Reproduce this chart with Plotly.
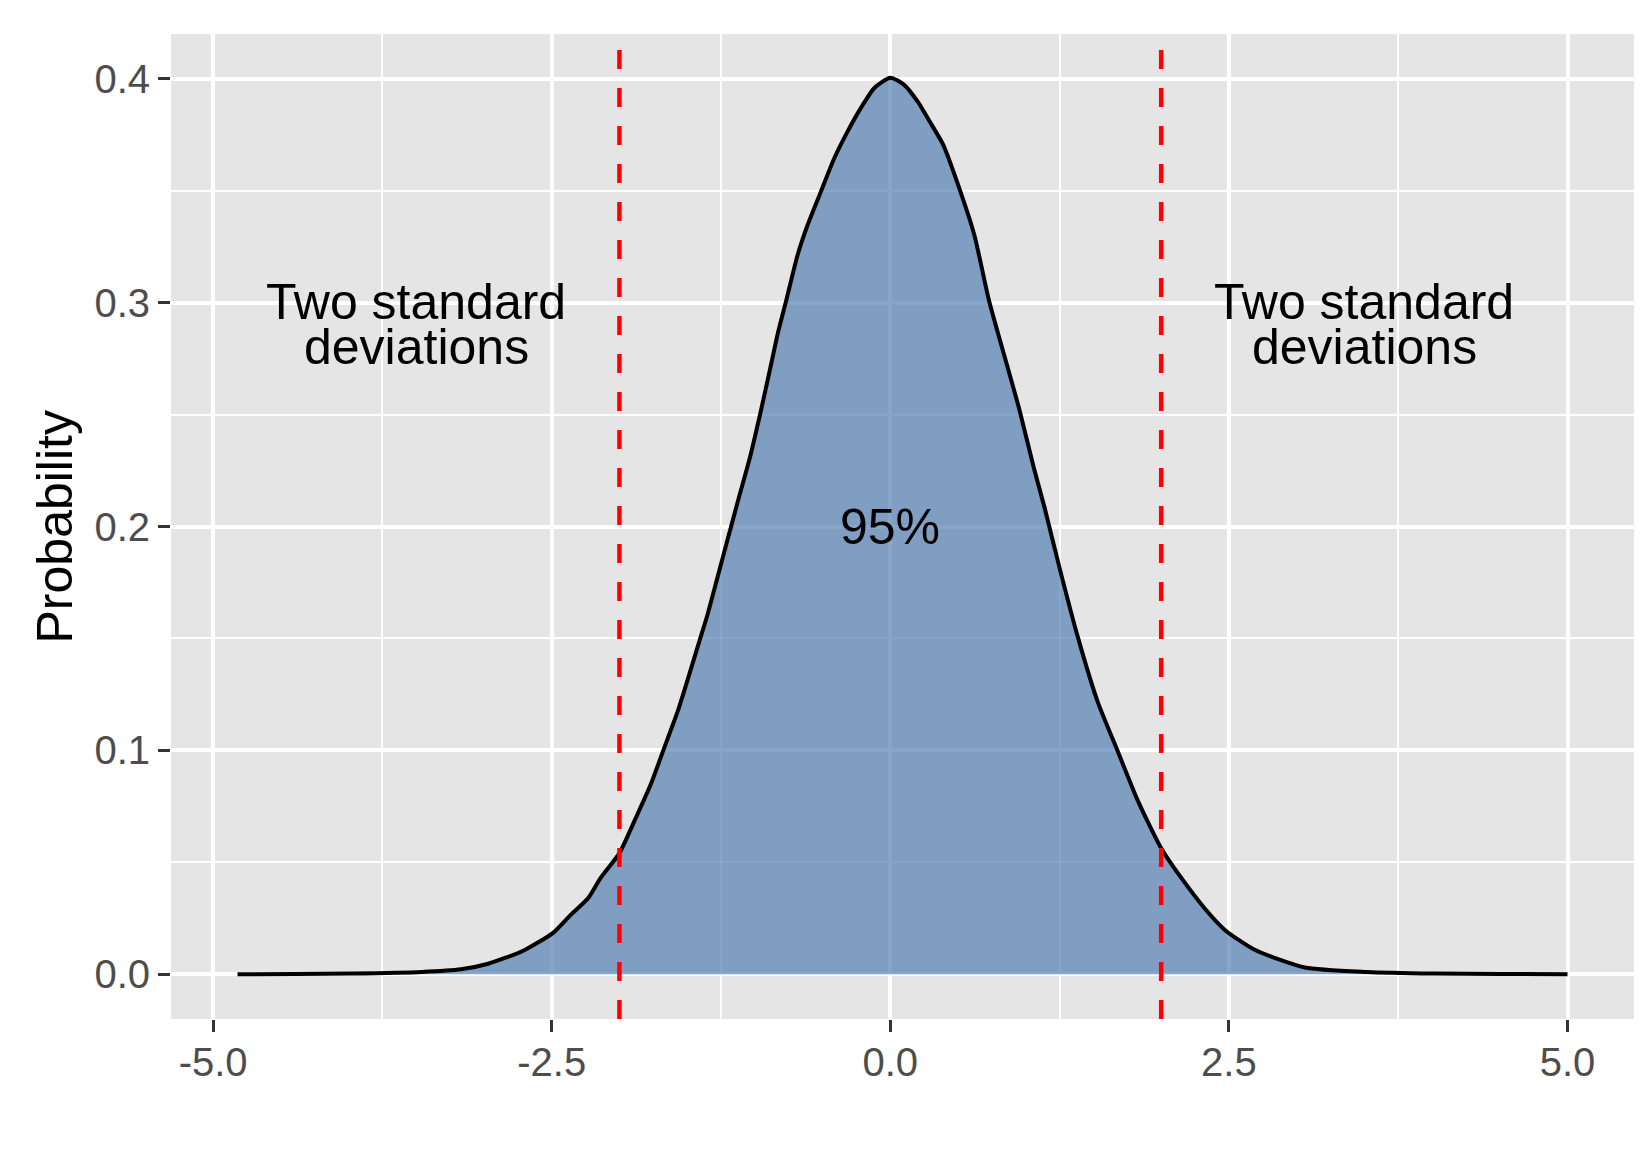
import plotly.graph_objects as go

x_vals = [-4.82, -4.40, -3.97, -3.46, -3.17, -2.97, -2.71, -2.49, -2.36, -2.23,
          -2.14, -2.00, -1.88, -1.77, -1.67, -1.57, -1.50, -1.41, -1.35, -1.275,
          -1.20, -1.12, -1.04, -0.96, -0.886, -0.827, -0.770, -0.684, -0.610, -0.512,
          -0.413, -0.315, -0.217, -0.118, 0.00, 0.10, 0.20, 0.29, 0.39, 0.50,
          0.62, 0.73, 0.84, 0.95, 1.06, 1.14, 1.25, 1.38, 1.53, 1.68,
          1.83, 2.00, 2.15, 2.32, 2.47, 2.69, 3.06, 3.52, 4.01, 4.50, 5.00]
density = [0.0000, 0.0001, 0.0003, 0.0010, 0.0022, 0.0047, 0.0105, 0.0185, 0.0265, 0.0340,
           0.0429, 0.0541, 0.0697, 0.0846, 0.1010, 0.1174, 0.1308, 0.1487, 0.1606, 0.1775,
           0.1945, 0.2125, 0.2300, 0.2505, 0.2708, 0.2872, 0.3006, 0.3214, 0.3348, 0.3497,
           0.3646, 0.3765, 0.3870, 0.3959, 0.4005, 0.3974, 0.3900, 0.3810, 0.3706, 0.3527,
           0.3303, 0.3006, 0.2767, 0.2529, 0.2261, 0.2082, 0.1814, 0.1516, 0.1219, 0.0995,
           0.0772, 0.0563, 0.0429, 0.0295, 0.0198, 0.0109, 0.0030, 0.0010, 0.0003, 0.0001, 0.0000]

sd_lines = [-2, 2]
side_label_x = [-3.5, 3.5]
side_label_y = 0.29
side_label_lines = ["Two standard", "deviations"]
center_label = "95%"
center_label_x = 0
center_label_y = 0.2

x_breaks = [-5, -2.5, 0, 2.5, 5]
x_labels = ["-5.0", "-2.5", "0.0", "2.5", "5.0"]
x_minor = [-3.75, -1.25, 1.25, 3.75]
y_breaks = [0, 0.1, 0.2, 0.3, 0.4]
y_labels = ["0.0", "0.1", "0.2", "0.3", "0.4"]
y_minor = [0.05, 0.15, 0.25, 0.35]
y_title = "Probability"

FONT = "Liberation Sans, Arial, Helvetica, sans-serif"

fig = go.Figure()
fig.add_trace(go.Scatter(
    x=x_vals, y=density, mode="lines",
    line=dict(color="black", width=4, shape="spline", smoothing=0.6),
    fill="tozeroy", fillcolor="rgba(84,128,178,0.7)",
    hoverinfo="skip", showlegend=False,
))

for v in sd_lines:
    fig.add_shape(type="line", xref="x", yref="paper", x0=v, x1=v, y0=0, y1=1,
                  line=dict(color="#FF0000", width=4.5, dash="19px,19px"), layer="above")

annotations = []
for lx in side_label_x:
    for i, txt in enumerate(side_label_lines):
        annotations.append(dict(
            x=lx, y=side_label_y, xref="x", yref="y", text=txt, showarrow=False,
            xanchor="center", yanchor="middle", yshift=23 if i == 0 else -22,
            font=dict(family=FONT, size=50, color="black"),
        ))
annotations.append(dict(
    x=center_label_x, y=center_label_y, xref="x", yref="y", text=center_label,
    showarrow=False, xanchor="center", yanchor="middle",
    font=dict(family=FONT, size=50, color="black"),
))
annotations.append(dict(
    x=-0.0793, y=0.5, xref="paper", yref="paper", text=y_title, showarrow=False,
    textangle=-90, xanchor="center", yanchor="middle",
    font=dict(family=FONT, size=50, color="black"),
))

fig.update_layout(
    width=1650, height=1155,
    margin=dict(l=163, r=24, t=26, b=144, autoexpand=False),
    paper_bgcolor="white", plot_bgcolor="#E5E5E5",
    font=dict(family=FONT),
    annotations=annotations,
    showlegend=False,
)
fig.update_xaxes(
    range=[-5.311, 5.491], tickmode="array", tickvals=x_breaks, ticktext=x_labels,
    ticks="outside", ticklen=12, tickwidth=3, tickcolor="#333333",
    tickfont=dict(family=FONT, size=40, color="#4D4D4D"), ticklabelstandoff=-4,
    showgrid=True, gridcolor="white", gridwidth=4, zeroline=False, showline=False,
    minor=dict(tickmode="array", tickvals=x_minor, showgrid=True, gridcolor="white",
               gridwidth=2.2, ticks=""),
)
fig.update_yaxes(
    range=[-0.02, 0.42], tickmode="array", tickvals=y_breaks, ticktext=y_labels,
    ticks="outside", ticklen=12, tickwidth=3, tickcolor="#333333",
    tickfont=dict(family=FONT, size=40, color="#4D4D4D"),
    showgrid=True, gridcolor="white", gridwidth=4, zeroline=False, showline=False,
    minor=dict(tickmode="array", tickvals=y_minor, showgrid=True, gridcolor="white",
               gridwidth=2.2, ticks=""),
)

fig.write_html("out.html")
